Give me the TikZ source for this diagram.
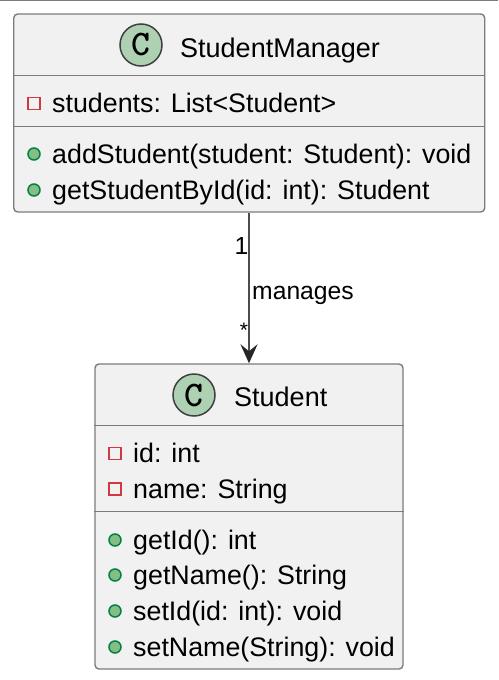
\documentclass[tikz,border=0pt]{standalone}
\usepackage{fontspec}
\setmainfont{Liberation Sans}
\usetikzlibrary{arrows.meta}
\definecolor{boxfill}{HTML}{F1F1F1}
\definecolor{boxline}{HTML}{7C7C7C}
\definecolor{spotfill}{HTML}{ADD1B2}
\definecolor{privred}{HTML}{D0393F}
\definecolor{pubgreen}{HTML}{038048}
\definecolor{pubfill}{HTML}{84BE84}
\begin{document}
\begin{tikzpicture}[x=1pt, y=1pt, >={Stealth[length=19pt, width=17pt, inset=7pt, color=black!85]}]
    \tikzset{
        classbox/.style={rectangle, draw=boxline, fill=boxfill, line width=1.4pt, rounded corners=4pt, inner sep=0pt},
        sepline/.style={draw=boxline, line width=1.1pt},
        spot/.style={circle, draw=black!75, fill=spotfill, line width=1.5pt, minimum size=42pt, inner sep=0pt, font=\ttfamily\bfseries\fontsize{36}{36}\selectfont},
        title/.style={anchor=base west, inner sep=0pt, font=\fontsize{27}{27}\selectfont},
        member/.style={anchor=base west, inner sep=0pt, font=\fontsize{26.8}{27}\selectfont},
        privmark/.style={rectangle, draw=privred, line width=1.5pt, minimum size=12pt, inner sep=0pt},
        pubmark/.style={circle, draw=pubgreen, fill=pubfill, line width=1.5pt, minimum size=12pt, inner sep=0pt},
        linklabel/.style={inner sep=0pt, font=\fontsize{24.7}{25}\selectfont}
    }
    \useasboundingbox (0,0) rectangle (498,-680);
    \fill[white] (0,0) rectangle (498,-680);
    \draw[boxline, line width=1.4pt] (0,-0.7) -- (498,-0.7);

    % StudentManager
    \node[classbox, minimum width=471pt, minimum height=198pt] (manager) at (249.25,-113) {};
    \node[spot] (managerspot) at (141,-45) {C};
    \node[title] (managertitle) at (180,-57) {StudentManager};
    \draw[sepline] (manager.west |- 0,-75.5) -- (manager.east |- 0,-75.5);
    \draw[sepline] (manager.west |- 0,-126.5) -- (manager.east |- 0,-126.5);
    \node[privmark] (m1) at (34,-103.5) {};
    \node[member] (students) at (52,-112) {students: List<Student>};
    \node[pubmark] (m2) at (34,-154) {};
    \node[member] (addstudent) at (52,-163) {addStudent(student: Student): void};
    \node[pubmark] (m3) at (34,-190) {};
    \node[member] (getstudent) at (52,-199) {getStudentById(id: int): Student};

    % Student
    \node[classbox, minimum width=308pt, minimum height=305pt] (student) at (249,-516.5) {};
    \node[spot] (studentspot) at (194,-395) {C};
    \node[title] (studenttitle) at (234,-406) {Student};
    \draw[sepline] (student.west |- 0,-425.5) -- (student.east |- 0,-425.5);
    \draw[sepline] (student.west |- 0,-511.5) -- (student.east |- 0,-511.5);
    \node[privmark] (s1) at (115,-453.5) {};
    \node[member] (id) at (133,-462) {id: int};
    \node[privmark] (s2) at (115,-489) {};
    \node[member] (name) at (133,-498) {name: String};
    \node[pubmark] (s3) at (115,-540) {};
    \node[member] (getid) at (133,-549) {getId(): int};
    \node[pubmark] (s4) at (115,-575) {};
    \node[member] (getname) at (133,-584.5) {getName(): String};
    \node[pubmark] (s5) at (115,-611) {};
    \node[member] (setid) at (133,-620) {setId(id: int): void};
    \node[pubmark] (s6) at (115,-647) {};
    \node[member] (setname) at (133,-656) {setName(String): void};

    \draw[->, black!70, line width=1.9pt] (manager.south -| student.north) -- (student.north);
    \node[linklabel] (one) at (241.5,-246) {1};
    \node[linklabel, anchor=base west] (manages) at (252,-299) {manages};
    \node[linklabel, font=\fontsize{21}{21}\selectfont] (many) at (244,-330) {*};
\end{tikzpicture}
\end{document}
